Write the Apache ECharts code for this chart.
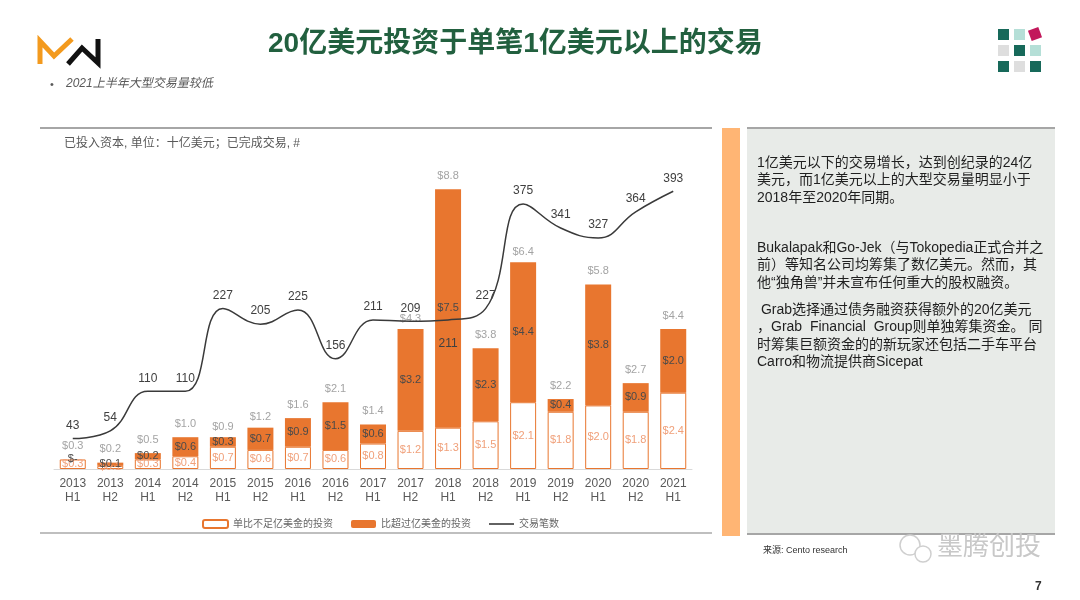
<!DOCTYPE html>
<html>
<head>
<meta charset="utf-8">
<script src="https://cdn.jsdelivr.net/npm/echarts@6/dist/echarts.min.js"></script>
<style>
  html, body { margin: 0; padding: 0; background: #fff; }
  #main { width: 1080px; height: 600px; }
</style>
</head>
<body>
<div id="main"></div>
<script>
// 半年度类别
var categories = ['2013\nH1', '2013\nH2', '2014\nH1', '2014\nH2', '2015\nH1', '2015\nH2', '2016\nH1', '2016\nH2',
	'2017\nH1', '2017\nH2', '2018\nH1', '2018\nH2', '2019\nH1', '2019\nH2', '2020\nH1', '2020\nH2', '2021\nH1'];
// 单笔不足1亿美元的投资（十亿美元）
var smallDeals = [0.3, 0.1, 0.3, 0.4, 0.7, 0.6, 0.7, 0.6, 0.8, 1.2, 1.3, 1.5, 2.1, 1.8, 2.0, 1.8, 2.4];
// 单笔超过1亿美元的投资
var largeDeals = [0, 0.1, 0.2, 0.6, 0.3, 0.7, 0.9, 1.5, 0.6, 3.2, 7.5, 2.3, 4.4, 0.4, 3.8, 0.9, 2.0];
// 合计
var totals = [0.3, 0.2, 0.5, 1.0, 0.9, 1.2, 1.6, 2.1, 1.4, 4.3, 8.8, 3.8, 6.4, 2.2, 5.8, 2.7, 4.4];
// 交易笔数
var dealCount = [43, 54, 110, 110, 227, 205, 225, 156, 211, 209, 211, 227, 375, 341, 327, 364, 393];

var FONT = '"Liberation Sans", "Noto Sans CJK SC", sans-serif';
var ORANGE = '#E8762F';

var lineData = [];
for (var i = 0; i < dealCount.length; i++) {
	if (i == 10) {
		lineData.push({ value: dealCount[i], label: { position: 'bottom', distance: 18 } });
	} else {
		lineData.push(dealCount[i]);
	}
}

var myChart = echarts.init(document.getElementById('main'));
var option = {
	animation: false,
	textStyle: { fontFamily: FONT },
	grid: { left: 54, right: 388, top: 151, bottom: 131 },
	legend: {
		left: 197,
		top: 514,
		itemWidth: 25,
		itemHeight: 8,
		itemGap: 18,
		textStyle: { fontSize: 10, color: '#666666', fontFamily: FONT },
		data: ['单比不足亿美金的投资', '比超过亿美金的投资',
			{ name: '交易笔数', icon: 'path://M0,0L0,0M0,3.2L25,3.2L25,4.8L0,4.8ZM25,8L25,8' }]
	},
	xAxis: {
		type: 'category',
		data: categories,
		axisLine: { lineStyle: { color: '#d9d9d9', width: 1 } },
		axisTick: { show: false },
		axisLabel: { color: '#595959', fontSize: 12, lineHeight: 14, margin: 8, interval: 0 }
	},
	yAxis: [
		{ type: 'value', min: 0, max: 10, show: false },
		{ type: 'value', min: 0, max: 450, show: false }
	],
	series: [
		{
			name: '单比不足亿美金的投资',
			type: 'bar',
			stack: 'amt',
			barWidth: 26,
			data: smallDeals,
			itemStyle: { color: '#ffffff', borderColor: ORANGE, borderWidth: 1 },
			label: {
				show: true, position: 'inside', color: '#F0A07A', fontSize: 11,
				formatter: function (p) { return '$' + p.value.toFixed(1); }
			}
		},
		{
			name: '比超过亿美金的投资',
			type: 'bar',
			stack: 'amt',
			barWidth: 26,
			data: largeDeals,
			itemStyle: { color: ORANGE },
			label: {
				show: true, position: 'inside', color: '#4a4a4a', fontSize: 11,
				formatter: function (p) { return p.value == 0 ? '$-' : '$' + p.value.toFixed(1); }
			}
		},
		{
			name: '合计',
			type: 'scatter',
			symbolSize: 0,
			data: totals,
			silent: true,
			label: {
				show: true, position: 'top', distance: 8, color: '#8c8c8c', fontSize: 11,
				formatter: function (p) { return '$' + p.value.toFixed(1); }
			}
		},
		{
			name: '交易笔数',
			type: 'line',
			yAxisIndex: 1,
			smooth: 0.45,
			symbol: 'circle',
			symbolSize: 0,
			showSymbol: true,
			data: lineData,
			lineStyle: { color: '#3a3a3a', width: 1.5 },
			itemStyle: { color: '#3a3a3a' },
			label: { show: true, position: 'top', distance: 7, color: '#404040', fontSize: 12 },
			labelLayout: { hideOverlap: false }
		}
	],
	graphic: [
		// 左上角标志
		{ type: 'polyline', shape: { points: [[40, 64], [40, 41], [54, 56], [72, 39]] },
			style: { stroke: '#F39A1E', lineWidth: 5, fill: null, lineJoin: 'miter' } },
		{ type: 'polyline', shape: { points: [[68, 64], [82, 48], [98, 63], [98, 39]] },
			style: { stroke: '#111111', lineWidth: 5, fill: null, lineJoin: 'miter' } },
		{ type: 'text', left: 50, top: 79,
			style: { text: '•', fontSize: 11, fill: '#595959', fontFamily: FONT } },
		{ type: 'text', left: 66, top: 78,
			style: { text: '2021上半年大型交易量较低', fontSize: 12, fontStyle: 'italic', fill: '#595959', fontFamily: FONT } },
		// 标题
		{ type: 'text', left: 268, top: 30, z: 10,
			style: { text: '20亿美元投资于单笔1亿美元以上的交易', fontSize: 28, fontWeight: 'bold', fill: '#22603F', fontFamily: FONT } },
		// 右上角方块
		{ type: 'rect', shape: { x: 998, y: 29, width: 11, height: 11 }, style: { fill: '#17695A' } },
		{ type: 'rect', shape: { x: 1014, y: 29, width: 11, height: 11 }, style: { fill: '#B5DFD7' } },
		{ type: 'rect', shape: { x: -5.5, y: -5.5, width: 11, height: 11 }, x: 1035, y: 34, rotation: 0.35, style: { fill: '#C2185B' } },
		{ type: 'rect', shape: { x: 998, y: 45, width: 11, height: 11 }, style: { fill: '#DEDEDE' } },
		{ type: 'rect', shape: { x: 1014, y: 45, width: 11, height: 11 }, style: { fill: '#17695A' } },
		{ type: 'rect', shape: { x: 1030, y: 45, width: 11, height: 11 }, style: { fill: '#B5DFD7' } },
		{ type: 'rect', shape: { x: 998, y: 61, width: 11, height: 11 }, style: { fill: '#17695A' } },
		{ type: 'rect', shape: { x: 1014, y: 61, width: 11, height: 11 }, style: { fill: '#DEDEDE' } },
		{ type: 'rect', shape: { x: 1030, y: 61, width: 11, height: 11 }, style: { fill: '#17695A' } },
		// 图表框线
		{ type: 'line', shape: { x1: 40, y1: 128, x2: 712, y2: 128 }, style: { stroke: '#a6a6a6', lineWidth: 2 } },
		{ type: 'line', shape: { x1: 40, y1: 533, x2: 712, y2: 533 }, style: { stroke: '#bfbfbf', lineWidth: 2 } },
		{ type: 'text', left: 64, top: 138,
			style: { text: '已投入资本, 单位：十亿美元；已完成交易, #', fontSize: 12, fill: '#595959', fontFamily: FONT } },
		// 橙色竖条与右侧说明
		{ type: 'rect', shape: { x: 722, y: 128, width: 18, height: 408 }, style: { fill: '#FFB574' } },
		{ type: 'rect', shape: { x: 747, y: 128, width: 308, height: 407 }, style: { fill: '#E8EBE8' } },
		{ type: 'line', shape: { x1: 747, y1: 128, x2: 1055, y2: 128 }, style: { stroke: '#a6a6a6', lineWidth: 2 } },
		{ type: 'line', shape: { x1: 747, y1: 534, x2: 1055, y2: 534 }, style: { stroke: '#a6a6a6', lineWidth: 2 } },
		{ type: 'text', left: 757, top: 154,
			style: { text: '1亿美元以下的交易增长，达到创纪录的24亿\n美元，而1亿美元以上的大型交易量明显小于\n2018年至2020年同期。',
				fontSize: 14, lineHeight: 17.5, fill: '#1f1f1f', fontFamily: FONT } },
		{ type: 'text', left: 757, top: 239,
			style: { text: 'Bukalapak和Go-Jek（与Tokopedia正式合并之\n前）等知名公司均筹集了数亿美元。然而，其\n他“独角兽”并未宣布任何重大的股权融资。',
				fontSize: 14, lineHeight: 17.5, fill: '#1f1f1f', fontFamily: FONT } },
		{ type: 'text', left: 757, top: 301,
			style: { text: ' Grab选择通过债务融资获得额外的20亿美元\n，Grab  Financial  Group则单独筹集资金。 同\n时筹集巨额资金的的新玩家还包括二手车平台\nCarro和物流提供商Sicepat',
				fontSize: 14, lineHeight: 17.5, fill: '#1f1f1f', fontFamily: FONT } },
		// 来源与水印
		{ type: 'text', left: 763, top: 546,
			style: { text: '来源: Cento research', fontSize: 9, fill: '#333333', fontFamily: FONT } },
		{ type: 'circle', shape: { cx: 910, cy: 545, r: 10 }, style: { fill: '#ffffff', stroke: '#cfcfcf', lineWidth: 1.5 } },
		{ type: 'circle', shape: { cx: 923, cy: 554, r: 8 }, style: { fill: '#ffffff', stroke: '#cfcfcf', lineWidth: 1.5 } },
		{ type: 'text', left: 937, top: 535,
			style: { text: '墨腾创投', fontSize: 26, fill: '#c8c8c8', fontFamily: FONT } },
		{ type: 'text', left: 1035, top: 581,
			style: { text: '7', fontSize: 12, fontWeight: 'bold', fill: '#333333', fontFamily: FONT } }
	]
};
myChart.setOption(option);
</script>
</body>
</html>
